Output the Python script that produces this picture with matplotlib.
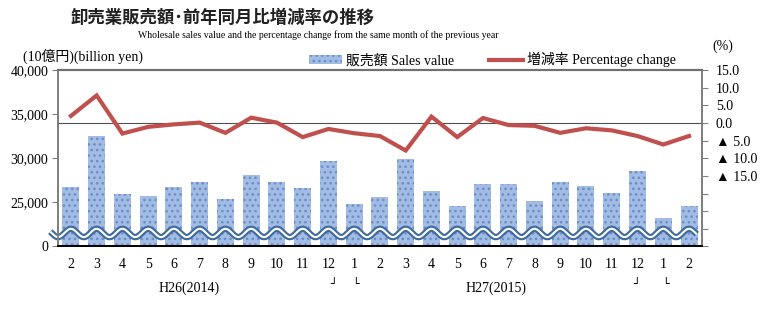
import numpy as np
import matplotlib
matplotlib.use('Agg')
from matplotlib import pyplot as plt
from matplotlib.patches import Patch
from matplotlib.lines import Line2D

# months from H26(2014) Feb to H27(2015) Feb, then to H28 Feb
months = ['2', '3', '4', '5', '6', '7', '8', '9', '10', '11', '12', '1', '2',
          '3', '4', '5', '6', '7', '8', '9', '10', '11', '12', '1', '2']

# sales value (10 billion yen)
sales = [26700, 32500, 25990, 25680, 26700, 27270, 25340, 28070, 27310,
         26590, 29740, 24770, 25650, 29920, 26330, 24620, 27050, 27050,
         25150, 27270, 26820, 26020, 28560, 23220, 24620]

# percentage change from the same month of the previous year
pct_change = [2.0, 7.8, -3.0, -1.1, -0.4, 0.1, -2.8, 1.5, 0.1, -4.0, -1.7,
              -2.9, -3.7, -7.8, 1.8, -4.0, 1.4, -0.6, -0.8, -2.8, -1.5,
              -2.1, -3.7, -6.1, -3.7]

left_ticks = [20000, 25000, 30000, 35000, 40000]
left_labels = ['0', '25,000', '30,000', '35,000', '40,000']
right_ticks = [15, 10, 5, 0, -5, -10, -15, -20, -25, -30, -35]
right_labels = ['15.0', '10.0', '5.0', '0.0', '▲ 5.0', '▲ 10.0', '▲ 15.0',
                '', '', '', '']

serif = ['Liberation Serif', 'Noto Sans CJK JP', 'DejaVu Sans']
bar_color = '#a2bce4'
dot_color = '#6a8fcb'
red = '#c0504d'
wave_color = '#416b9c'

plt.rcParams['hatch.linewidth'] = 1.1

fig = plt.figure(figsize=(7.79, 3.22), dpi=100)
ax = fig.add_axes([0.0745, 0.2345, 0.8265, 0.548])
ax2 = ax.twinx()

x = np.arange(len(months))

# bars
ax.bar(x, sales, width=0.66, color=bar_color, edgecolor=dot_color,
       linewidth=0, hatch='...', zorder=2)
ax.set_xlim(-0.5, len(months) - 0.5)
ax.set_ylim(20000, 40000)
ax.set_yticks(left_ticks)
ax.set_yticklabels(left_labels, family=serif, fontsize=10)
ax.set_xticks(x)
ax.set_xticklabels(months, family=serif, fontsize=10)
ax.tick_params(axis='x', length=0, pad=8)
ax.tick_params(axis='y', length=4, color='#808080', pad=3)

# axis break wave (decoration)
wx = np.linspace(-0.8, 24.3, 800)
wy = 21535 + 470 * np.cos(2 * np.pi * wx)
ax.plot(wx, wy, color=wave_color, lw=4.6, zorder=4, clip_on=False,
        solid_capstyle='butt')
ax.plot(wx, wy, color='white', lw=1.5, zorder=5, clip_on=False,
        solid_capstyle='butt')

# percentage change line
ax2.axhline(0, color='#505050', lw=0.8, zorder=1)
ax2.plot(x, pct_change, color=red, lw=3, zorder=3, solid_joinstyle='miter')
ax2.set_ylim(-35, 15)
ax2.set_yticks(right_ticks)
ax2.set_yticklabels(right_labels, family=serif, fontsize=10)
ax2.tick_params(axis='y', length=4, color='#808080', pad=6)

for a in (ax, ax2):
    a.spines['top'].set_color('#707070')
    a.spines['top'].set_linewidth(1.5)
    a.spines['left'].set_color('#808080')
    a.spines['left'].set_linewidth(1.3)
    a.spines['right'].set_color('#808080')
    a.spines['right'].set_linewidth(1.3)
    a.spines['bottom'].set_color('black')
    a.spines['bottom'].set_linewidth(1.3)

# year labels and brackets
ax.text(4.6, -0.235, 'H26(2014)', transform=ax.get_xaxis_transform(),
        ha='center', va='center', family=serif, fontsize=10)
ax.text(16.5, -0.235, 'H27(2015)', transform=ax.get_xaxis_transform(),
        ha='center', va='center', family=serif, fontsize=10)
for xi, ch in [(10.2, '┘'), (11.05, '└'), (21.95, '┘'), (23.1, '└')]:
    ax.text(xi, -0.215, ch, transform=ax.get_xaxis_transform(),
            ha='center', va='center', family='DejaVu Sans', fontsize=8)

# titles
fig.text(0.09, 0.945, '卸売業販売額･前年同月比増減率の推移',
         family='Noto Sans CJK JP', fontweight='bold', fontsize=12.5,
         ha='left', va='center', color='#202020')
fig.text(0.177, 0.891, 'Wholesale sales value and the percentage change '
         'from the same month of the previous year',
         family=serif, fontsize=7, ha='left', va='center')
fig.text(0.03, 0.826, '(10億円)(billion yen)', family=serif, fontsize=10,
         ha='left', va='center')
fig.text(0.915, 0.855, '(%)', family=serif, fontsize=10, ha='left',
         va='center')

# legend
handles = [Patch(facecolor=bar_color, edgecolor=dot_color, linewidth=0,
                 hatch='...'),
           Line2D([0], [0], color=red, lw=3)]
labels = ['販売額 Sales value', '増減率 Percentage change']
fig.legend(handles, labels, ncol=2, loc='center', frameon=False,
           bbox_to_anchor=(0.632, 0.814), prop={'family': serif, 'size': 10},
           handlelength=2.4, handleheight=0.6, columnspacing=2.5,
           handletextpad=0.3)

fig.savefig('out.png', dpi=100)
